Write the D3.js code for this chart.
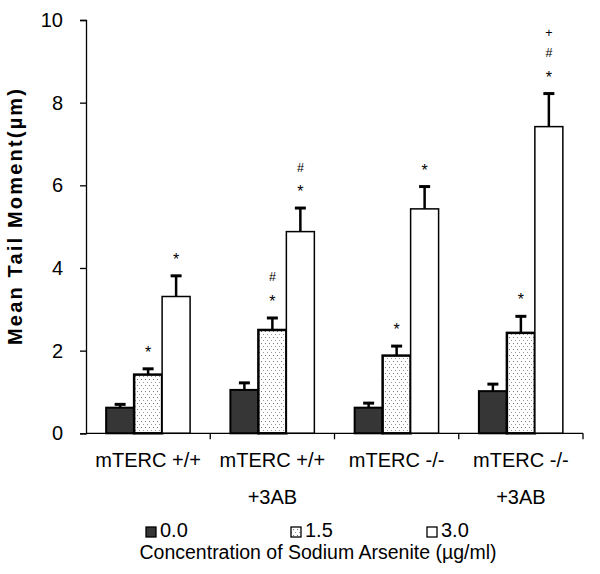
<!DOCTYPE html>
<html>
<head>
<meta charset="utf-8">
<script src="https://cdn.jsdelivr.net/npm/d3@7"></script>
<style>
  html, body { margin: 0; padding: 0; background: #fff; }
  svg { display: block; font-family: Arial, "Liberation Sans", sans-serif; }
</style>
</head>
<body>
<svg id="chart" width="600" height="574"></svg>
<script>
// ---- data ----
const groups = ["mTERC +/+", "mTERC +/+\n+3AB", "mTERC -/-", "mTERC -/-\n+3AB"];
const series = ["0.0", "1.5", "3.0"];
const values0 = [0.62, 1.05, 0.62, 1.02];   // 0.0 µg/ml
const values15 = [1.42, 2.50, 1.88, 2.43];  // 1.5 µg/ml
const values30 = [3.31, 4.88, 5.43, 7.42];  // 3.0 µg/ml
const errors0 = [0.08, 0.17, 0.11, 0.17];
const errors15 = [0.14, 0.29, 0.23, 0.40];
const errors30 = [0.50, 0.57, 0.54, 0.80];
const marks0 = ["", "", "", ""];
const marks15 = ["*", "*#", "*", "*"];
const marks30 = ["*", "*#", "*", "*#+"];
const yTicks = [0, 2, 4, 6, 8, 10];
const yTitle = "Mean Tail Moment(\u00b5m)";
const xTitle = "Concentration of Sodium Arsenite (\u00b5g/ml)";

const values = [values0, values15, values30];
const errors = [errors0, errors15, errors30];
const marks = [marks0, marks15, marks30];

const rows = [];
groups.forEach((g, gi) => series.forEach((s, si) => rows.push({
  group: g, series: s, si, value: values[si][gi], err: errors[si][gi], mark: marks[si][gi]
})));

// ---- layout ----
const svg = d3.select("#chart");
const mLeft = 86, mRight = 583, mTop = 20, mBottom = 433.3;

const x0 = d3.scaleBand().domain(groups).range([mLeft, mRight]).padding(0);
const x1 = d3.scaleBand().domain(series).range([0, x0.bandwidth()]).paddingInner(0).paddingOuter(0.72);
const y = d3.scaleLinear().domain([0, 10]).range([mBottom, mTop]);

// patterns
const defs = svg.append("defs");
const pat = defs.append("pattern").attr("id", "dots").attr("patternUnits", "userSpaceOnUse")
  .attr("width", 4).attr("height", 6);
pat.append("rect").attr("width", 4).attr("height", 6).attr("fill", "#fff");
pat.append("rect").attr("x", 1).attr("y", 1).attr("width", 1).attr("height", 1).attr("fill", "#777");
pat.append("rect").attr("x", 3).attr("y", 4).attr("width", 1).attr("height", 1).attr("fill", "#999");

const fills = ["#363636", "url(#dots)", "#ffffff"];
const strokeW = [2, 2.5, 1.5];

// y axis
const yAxis = svg.append("g").attr("transform", `translate(${mLeft},0)`)
  .call(d3.axisLeft(y).tickValues(yTicks).tickSize(6).tickPadding(17).tickFormat(d3.format("d")));
yAxis.select(".domain").attr("stroke", "#000").attr("stroke-width", 1.3);
yAxis.selectAll(".tick line").attr("stroke", "#000").attr("stroke-width", 1.3);
yAxis.selectAll(".tick text").attr("font-size", 20).attr("fill", "#000")
  .attr("font-family", "Arial, 'Liberation Sans', sans-serif");

// bars
const gBars = svg.append("g");
gBars.selectAll("rect.bar").data(rows).join("rect")
  .attr("class", "bar")
  .attr("x", d => x0(d.group) + x1(d.series))
  .attr("y", d => y(d.value))
  .attr("width", x1.bandwidth())
  .attr("height", d => y(0) - y(d.value))
  .attr("fill", d => fills[d.si])
  .attr("stroke", "#000")
  .attr("stroke-width", d => strokeW[d.si]);

// error bars (upward only)
const cx = d => x0(d.group) + x1(d.series) + x1.bandwidth() / 2;
gBars.selectAll("line.err").data(rows).join("line")
  .attr("class", "err")
  .attr("x1", cx).attr("x2", cx)
  .attr("y1", d => y(d.value)).attr("y2", d => y(d.value + d.err))
  .attr("stroke", "#000").attr("stroke-width", 2.5);
gBars.selectAll("line.cap").data(rows).join("line")
  .attr("class", "cap")
  .attr("x1", d => cx(d) - 5.5).attr("x2", d => cx(d) + 5.5)
  .attr("y1", d => y(d.value + d.err)).attr("y2", d => y(d.value + d.err))
  .attr("stroke", "#000").attr("stroke-width", 3);

// significance marks, stacked upward
rows.forEach(d => {
  d.mark.split("").forEach((m, k) => {
    svg.append("text")
      .attr("x", cx(d))
      .attr("y", y(d.value + d.err) - 16 - k * 20.5 + (m === "*" ? 5 : 0))
      .attr("text-anchor", "middle")
      .attr("font-size", m === "*" ? 16 : 12.5)
      .attr("fill", "#000")
      .text(m);
  });
});

// x axis line with boundary ticks
svg.append("line").attr("x1", mLeft).attr("x2", mRight).attr("y1", mBottom).attr("y2", mBottom)
  .attr("stroke", "#000").attr("stroke-width", 1.3);
const bounds = groups.map(g => x0(g) + x0.bandwidth());
svg.selectAll("line.xt").data(bounds).join("line").attr("class", "xt")
  .attr("x1", d => d).attr("x2", d => d).attr("y1", mBottom).attr("y2", mBottom + 6)
  .attr("stroke", "#000").attr("stroke-width", 1.3);

// group labels
groups.forEach(g => {
  const t = svg.append("text").attr("text-anchor", "middle").attr("font-size", 20).attr("fill", "#000");
  g.split("\n").forEach((line, i) => {
    t.append("tspan").attr("x", x0(g) + x0.bandwidth() / 2).attr("y", 467 + i * 36.5).text(line);
  });
});

// y title
svg.append("text")
  .attr("transform", `translate(22,217) rotate(-90)`)
  .attr("text-anchor", "middle").attr("font-size", 20).attr("font-weight", "bold").attr("fill", "#000")
  .attr("textLength", 256).attr("lengthAdjust", "spacing")
  .text(yTitle);

// legend
const legendX = [146, 291, 427];
series.forEach((s, i) => {
  svg.append("rect").attr("x", legendX[i]).attr("y", 527).attr("width", 10).attr("height", 10)
    .attr("fill", fills[i]).attr("stroke", "#000").attr("stroke-width", 1.3);
  svg.append("text").attr("x", legendX[i] + 14).attr("y", 537).attr("font-size", 20).attr("fill", "#000").text(s);
});
svg.append("text").attr("x", 318).attr("y", 559).attr("text-anchor", "middle")
  .attr("font-size", 19.5).attr("fill", "#000").text(xTitle);
</script>
</body>
</html>
